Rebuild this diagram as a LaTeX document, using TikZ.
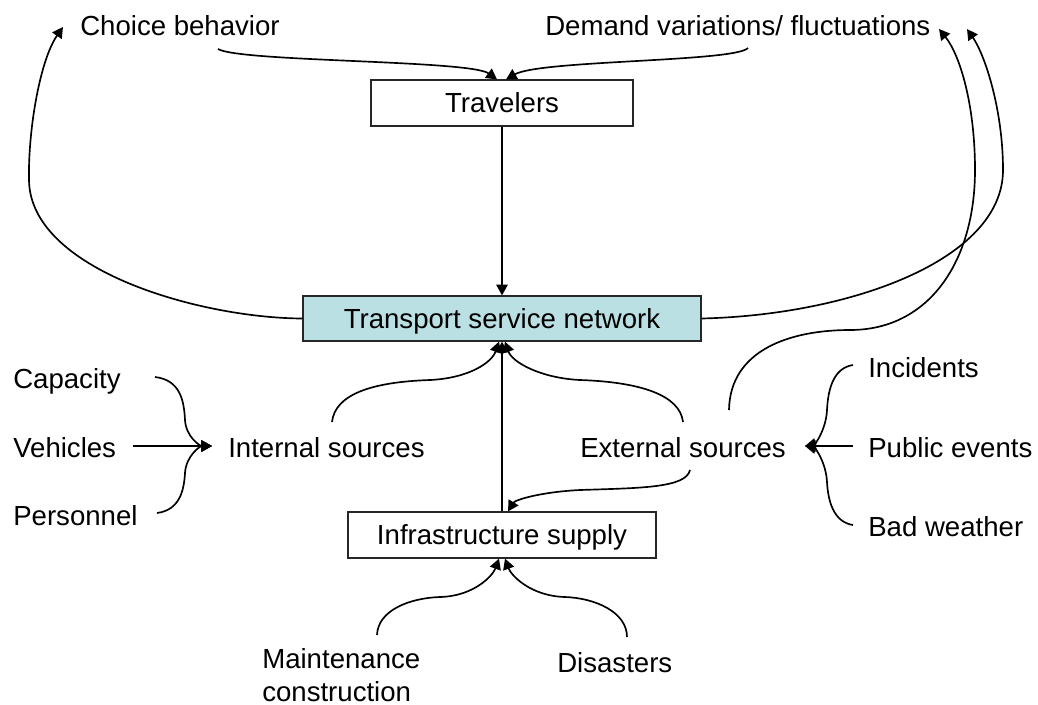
\documentclass[tikz,border=0pt]{standalone}
\usepackage{fontspec}
\setmainfont{Liberation Sans}
\usetikzlibrary{arrows.meta,calc}
\definecolor{netfill}{RGB}{187,224,227}
\begin{document}
\begin{tikzpicture}[x=0.75pt,y=-0.75pt,
  font=\fontsize{20.7}{24.75}\selectfont,
  lbl/.style={inner sep=0pt, anchor=base west},
  boxnode/.style={draw=black!85, line width=0.9pt, inner sep=0pt, text height=14.9pt, text depth=0pt},
  conn/.style={line width=1.25pt, -{Triangle[length=8pt,width=8.5pt]}},
  plainline/.style={line width=1.25pt}]
\useasboundingbox (0,0) rectangle (1038,704);

% labels
\node[lbl] (cb) at (80,35) {Choice behavior};
\node[lbl] (dv) at (545,35) {Demand variations/ fluctuations};
\node[lbl] (cap) at (13,388) {Capacity};
\node[lbl] (veh) at (13,457) {Vehicles};
\node[lbl] (per) at (13,525) {Personnel};
\node[lbl] (ins) at (228,457) {Internal sources};
\node[lbl] (ext) at (580,457) {External sources};
\node[lbl] (inc) at (868,377) {Incidents};
\node[lbl] (pub) at (868,457) {Public events};
\node[lbl] (bad) at (868,536) {Bad weather};
\node[lbl, align=left] (mc) at (262,701) {Maintenance\\construction};
\node[lbl] (dis) at (557,672) {Disasters};

% boxes
\node[boxnode, minimum width=196.5pt, minimum height=34.5pt] (trav) at (502,103) {Travelers};
\node[boxnode, fill=netfill, minimum width=298.5pt, minimum height=33.75pt] (net) at (502,318.5) {Transport service network};
\node[boxnode, minimum width=231pt, minimum height=34.5pt] (infra) at (502,535) {Infrastructure supply};

% top connectors
\draw[conn] ($(cb.base west)+(138,14)$) .. controls (240,62) and (470,60) .. ($(trav.north)+(-5,0)$);
\draw[conn] ($(dv.base west)+(203,13)$) .. controls (735,62) and (540,60) .. ($(trav.north)+(4,0)$);
\draw[conn] (trav.south) -- (net.north);

% feedback loops
\draw[conn] (net.west) .. controls (200,318) and (30,270) .. (29,180)
  .. controls (28,130) and (40,60) .. ($(cb.base west)+(-17,-8)$);
\draw[conn] (net.east) .. controls (850,315) and (1003,260) .. (1003,170)
  .. controls (1003,110) and (985,55) .. ($(dv.base west)+(422,-6)$);
\draw[conn] ($(ext.base west)+(149,-47)$) .. controls (730,350) and (790,330) .. (850,330)
  .. controls (930,330) and (975,260) .. (975,170)
  .. controls (975,105) and (960,55) .. ($(dv.base west)+(394,-6)$);

% sources to network
\draw[conn] ($(ins.base west)+(104,-35)$) .. controls (335,395) and (370,382) .. (430,380)
  .. controls (470,378) and (492,362) .. ($(net.south)+(-3,0)$);
\draw[conn] ($(ext.base west)+(103,-35)$) .. controls (680,395) and (640,382) .. (580,380)
  .. controls (540,378) and (512,362) .. ($(net.south)+(3,0)$);
\draw[conn] (infra.north) -- (net.south);
\draw[conn] ($(ext.base west)+(110,13)$) .. controls (686,488) and (640,488) .. (580,490)
  .. controls (540,492) and (515,500) .. ($(infra.north)+(6,0)$);

% internal sources inputs
\draw[conn] ($(cap.base west)+(142,-11)$) .. controls (180,380) and (184,400) .. (185,420)
  .. controls (186,437) and (200,446) .. ($(ins.base west)+(-16,-11)$);
\draw[conn] ($(veh.base west)+(120,-11)$) -- ($(ins.base west)+(-16,-11)$);
\draw[conn] ($(per.base west)+(144,-12)$) .. controls (180,510) and (184,490) .. (185,473)
  .. controls (186,456) and (200,446) .. ($(ins.base west)+(-16,-11)$);

% external sources inputs
\draw[conn] ($(inc.base west)+(-15,-12)$) .. controls (833,368) and (828,390) .. (827,410)
  .. controls (826,430) and (815,444) .. ($(ext.base west)+(225,-11)$);
\draw[conn] ($(pub.base west)+(-15,-11)$) -- ($(ext.base west)+(225,-11)$);
\draw[conn] ($(bad.base west)+(-15,-11)$) .. controls (833,522) and (828,500) .. (827,482)
  .. controls (826,462) and (815,448) .. ($(ext.base west)+(225,-11)$);

% infrastructure inputs
\draw[conn] ($(mc.base west)+(115,-66)$) .. controls (378,610) and (410,598) .. (440,597)
  .. controls (475,596) and (493,575) .. ($(infra.south)+(-3,0)$);
\draw[conn] ($(dis.base west)+(70,-35)$) .. controls (627,612) and (595,598) .. (565,597)
  .. controls (530,596) and (511,575) .. ($(infra.south)+(3,0)$);
\end{tikzpicture}
\end{document}
